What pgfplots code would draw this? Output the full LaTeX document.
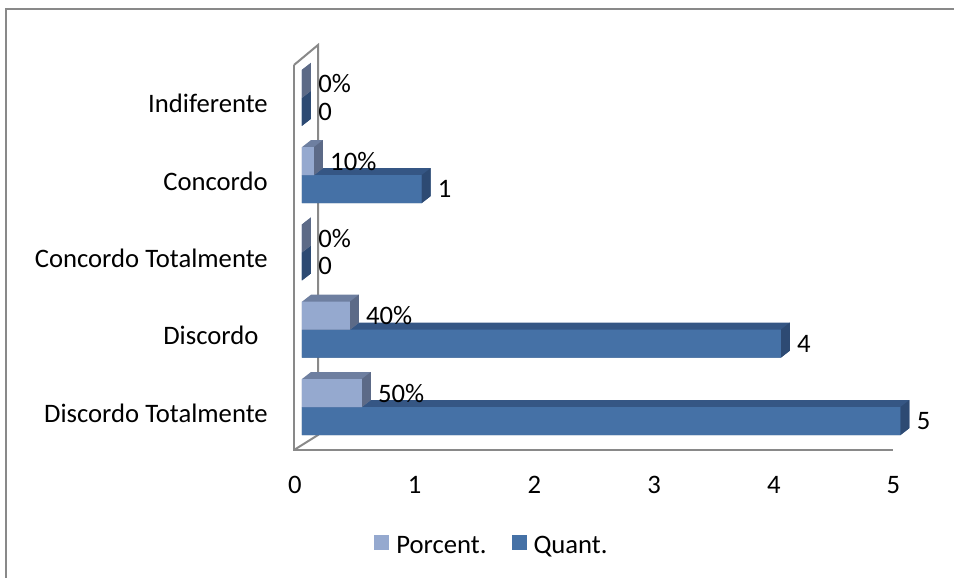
\documentclass[border=0pt]{standalone}
\usepackage{pgfplots}
\pgfplotsset{compat=1.18}
\usepackage{fontspec}
\setmainfont{Carlito}
\definecolor{qfront}{HTML}{4571A6}
\definecolor{qtop}{HTML}{355684}
\definecolor{qside}{HTML}{2D4A73}
\definecolor{pfront}{HTML}{95A9CF}
\definecolor{ptop}{HTML}{6E7FA0}
\definecolor{pside}{HTML}{5C6A87}
\definecolor{wallgray}{HTML}{898989}
\newcommand\myfont{\fontsize{20}{23}\selectfont}
\makeatletter
\newdimen\tdxa \newdimen\tdya \newdimen\tdxb \newdimen\tdyb \newdimen\tdtmp
\def\tdDX{6.75pt}\def\tdDY{5.25pt}
\def\td@norm{%
  \ifdim\tdxa>\tdxb \tdtmp=\tdxa \tdxa=\tdxb \tdxb=\tdtmp \fi
  \ifdim\tdya>\tdyb \tdtmp=\tdya \tdya=\tdyb \tdyb=\tdtmp \fi}
\def\td@getc#1#2{%
  \pgf@process{#1}\tdxa=\pgf@x \tdya=\pgf@y
  \pgf@process{#2}\tdxb=\pgf@x \tdyb=\pgf@y \td@norm}
\def\td@getr#1#2{%
  \pgf@process{#1}\tdxa=\pgf@x \tdya=\pgf@y
  \pgf@process{#2}\tdxb=\pgf@x \tdyb=\pgf@y
  \advance\tdxb by\tdxa \advance\tdyb by\tdya \td@norm}
\def\td@hexpath{%
  \pgfpathmoveto{\pgfqpoint{\tdxa}{\tdya}}%
  \pgfpathlineto{\pgfqpoint{\tdxb}{\tdya}}%
  \pgfpathlineto{\pgfpoint{\tdxb+\tdDX}{\tdya+\tdDY}}%
  \pgfpathlineto{\pgfpoint{\tdxb+\tdDX}{\tdyb+\tdDY}}%
  \pgfpathlineto{\pgfpoint{\tdxa+\tdDX}{\tdyb+\tdDY}}%
  \pgfpathlineto{\pgfqpoint{\tdxa}{\tdyb}}%
  \pgfpathclose}
\def\td@sidepath{%
  \pgfpathmoveto{\pgfqpoint{\tdxb}{\tdya}}%
  \pgfpathlineto{\pgfpoint{\tdxb+\tdDX}{\tdya+\tdDY}}%
  \pgfpathlineto{\pgfpoint{\tdxb+\tdDX}{\tdyb+\tdDY}}%
  \pgfpathlineto{\pgfqpoint{\tdxb}{\tdyb}}%
  \pgfpathclose}
\def\tdhexc#1#2{\td@getc{#1}{#2}\td@hexpath}
\def\tdhexr#1#2{\td@getr{#1}{#2}\td@hexpath}
\def\tdsidec#1#2{\td@getc{#1}{#2}\td@sidepath}
\def\tdsider#1#2{\td@getr{#1}{#2}\td@sidepath}
\pgfplotsset{
  hexbars/.style={/utils/exec={\let\pgfpathrectanglecorners\tdhexc\let\pgfpathrectangle\tdhexr}},
  sidebars/.style={/utils/exec={\let\pgfpathrectanglecorners\tdsidec\let\pgfpathrectangle\tdsider}},
}
\makeatother
\begin{document}
\begin{tikzpicture}
\path[use as bounding box] (0,0) rectangle (715.5pt,-433.5pt);
\begin{scope}[x=0.75pt,y=-0.75pt]
 \draw[wallgray, line width=1.5pt] (6,580) -- (6,9) -- (956,9);
 \draw[wallgray, line width=1.5pt] (294,65) -- (294,450) -- (893,450);
 \draw[wallgray, line width=1.5pt] (294,450) -- (318,435) -- (318,45) -- (294,65);
\end{scope}
\begin{axis}[
  at={(226.5pt,-337.5pt)}, anchor=south west,
  scale only axis, width=448.875pt, height=288.75pt,
  xmin=0, xmax=5, ymin=-0.556, ymax=4.424,
  clip=false,
  axis line style={draw=none}, major tick length=0pt,
  xtick={0,1,2,3,4,5},
  ytick={0,1,2,3,4},
  yticklabels={Discordo Totalmente, Discordo\kern0.35em, Concordo Totalmente, Concordo, Indiferente},
  /pgf/number format/assume math mode=true,
  every tick label/.append style={font=\myfont},
  xticklabel style={anchor=center, yshift=-26.25pt, xshift=-5.25pt},
  yticklabel style={anchor=east, inner sep=0pt, xshift=-25.5pt, yshift=-4.5pt},
  xbar, bar width=21pt,
  legend columns=2,
  legend style={at={(0.3158,-0.2468)}, anchor=center, draw=none, fill=none,
    font=\myfont, nodes={inner sep=0pt},
    /tikz/every even column/.append style={column sep=18.75pt}},
  legend image code/.code={\fill[#1] (0pt,-3pt) -- (11.25pt,-3pt) -- (11.25pt,8.25pt) -- (0pt,8.25pt) -- cycle; \path (16.5pt,0pt);},
]
\addlegendimage{fill=pfront, draw=none}
\addlegendentry{Porcent.}
\addlegendimage{fill=qfront, draw=none}
\addlegendentry{Quant.}
% Quant. series
\addplot[forget plot, draw=none, fill=qtop, bar shift=-10.5pt, hexbars]
  coordinates {(5,0) (4,1) (0,2) (1,3) (0,4)};
\addplot[forget plot, draw=none, fill=qside, bar shift=-10.5pt, sidebars]
  coordinates {(5,0) (4,1) (0,2) (1,3) (0,4)};
\addplot[forget plot, draw=none, fill=qfront, bar shift=-10.5pt,
  nodes near coords, point meta=explicit symbolic,
  every node near coord/.append style={anchor=west, inner sep=0pt, xshift=12pt, font=\myfont, text=black}]
  coordinates {(5,0) [5] (4,1) [4] (0,2) [0] (1,3) [1] (0,4) [0]};
% Porcent. series
\addplot[forget plot, draw=none, fill=ptop, bar shift=10.5pt, hexbars]
  coordinates {(0.5,0) (0.4,1) (0,2) (0.1,3) (0,4)};
\addplot[forget plot, draw=none, fill=pside, bar shift=10.5pt, sidebars]
  coordinates {(0.5,0) (0.4,1) (0,2) (0.1,3) (0,4)};
\addplot[forget plot, draw=none, fill=pfront, bar shift=10.5pt,
  nodes near coords, point meta=explicit symbolic,
  every node near coord/.append style={anchor=west, inner sep=0pt, xshift=12pt, font=\myfont, text=black}]
  coordinates {(0.5,0) [50\%] (0.4,1) [40\%] (0,2) [0\%] (0.1,3) [10\%] (0,4) [0\%]};
\end{axis}
\end{tikzpicture}
\end{document}
